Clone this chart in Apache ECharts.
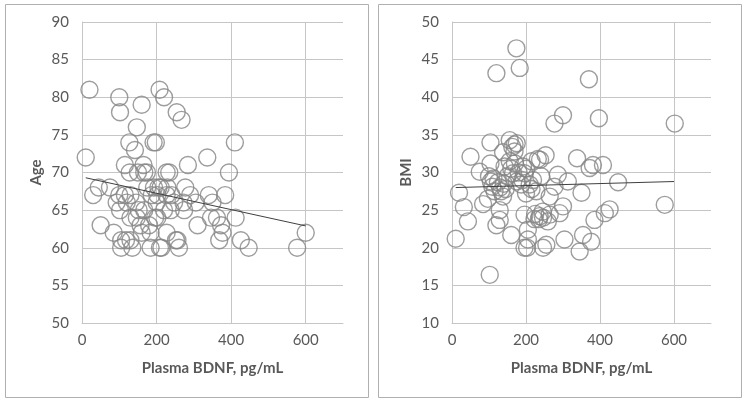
<!DOCTYPE html>
<html>
<head>
<meta charset="utf-8">
<script src="https://cdn.jsdelivr.net/npm/echarts@6/dist/echarts.min.js"></script>
<style>
  html, body { margin: 0; padding: 0; background: #fff; }
  #chart { width: 747px; height: 404px; }
</style>
</head>
<body>
<div id="chart"></div>
<script>
// Plasma BDNF (pg/mL) vs Age
const agePoints = [
  [10, 72], [20, 81], [30, 67], [45, 68], [50, 63], [75, 68], [85, 62], [100, 80], [102, 78],
  [100, 67], [102, 65], [105, 61], [105, 60], [115, 71], [127, 74], [128, 70], [115, 67],
  [120, 66], [130, 64], [118, 61], [130, 61], [135, 60], [130, 67], [142, 73], [147, 76],
  [160, 79], [145, 66], [152, 65], [157, 63], [147, 64], [165, 71], [167, 70], [174, 70],
  [175, 68], [167, 65], [180, 63], [184, 62], [184, 60], [192, 74], [198, 74], [196, 64],
  [202, 64], [193, 68], [202, 67], [200, 66], [208, 81], [220, 80], [211, 68], [227, 70],
  [234, 70], [229, 68], [227, 62], [213, 60], [238, 65], [247, 66], [252, 61], [256, 61],
  [254, 78], [267, 77], [260, 60], [272, 66], [274, 65], [277, 68], [284, 71], [290, 67],
  [305, 66], [310, 63], [336, 72], [340, 67], [350, 66], [346, 64], [362, 64], [368, 61],
  [373, 63], [377, 62], [384, 67], [394, 70], [410, 74], [412, 64], [426, 61], [447, 60],
  [577, 60], [600, 62], [93, 66], [150, 70], [160, 62], [187, 67], [227, 67], [205, 68],
  [209, 60], [220, 65], [240, 67]
];

// Plasma BDNF (pg/mL) vs BMI
const bmiPoints = [
  [10, 21.2], [19, 27.3], [32, 25.4], [43, 23.5], [50, 32.1], [75, 30.1], [84, 25.8],
  [104, 34.0], [102, 16.4], [104, 31.2], [100, 29.5], [109, 28.1], [97, 26.5], [120, 43.2],
  [120, 23.0], [129, 25.0], [129, 23.7], [124, 28.7], [133, 27.5], [138, 26.8], [138, 32.7],
  [142, 30.8], [156, 34.3], [163, 33.4], [169, 32.8], [169, 33.7], [156, 31.5], [165, 29.9],
  [174, 46.5], [183, 43.9], [160, 21.7], [192, 30.8], [196, 29.9], [187, 28.4], [196, 24.4],
  [205, 22.4], [205, 21.1], [196, 20.0], [203, 20.0], [210, 28.4], [219, 29.0], [228, 27.5],
  [232, 31.8], [253, 32.3], [237, 24.2], [223, 23.8], [246, 24.0], [264, 24.4], [259, 23.5],
  [246, 20.0], [255, 20.4], [241, 29.5], [264, 26.8], [277, 28.1], [277, 36.5], [300, 37.6],
  [286, 29.7], [300, 25.5], [291, 24.6], [304, 21.1], [313, 28.8], [338, 31.9], [350, 27.3],
  [345, 19.5], [354, 21.7], [370, 42.4], [372, 30.6], [381, 31.0], [376, 20.8], [385, 23.7],
  [397, 37.2], [408, 31.0], [413, 24.6], [426, 25.1], [449, 28.7], [575, 25.7], [602, 36.5],
  [140, 28.5], [150, 29.5], [145, 27.8], [130, 28.0], [115, 27.5], [160, 30.5], [170, 31.2],
  [180, 30.0], [175, 28.8], [200, 27.2], [215, 27.8], [225, 24.5], [235, 23.8], [245, 24.8],
  [200, 30.5], [190, 29.0], [215, 31.5], [105, 28.8], [112, 29.2], [238, 31.7], [175, 33.9]
];

// linear trendlines, endpoints
const trendX = [10, 600];
const ageTrend = [69.3, 62.9];
const bmiTrend = [28.0, 28.8];

const gray = '#595959';
const gridColor = '#c6c6c6';

const chart = echarts.init(document.getElementById('chart'));

function xAxisFor(gridIndex) {
  return {
    gridIndex: gridIndex,
    type: 'value',
    min: 0,
    max: 700,
    interval: 200,
    name: 'Plasma BDNF, pg/mL',
    nameLocation: 'middle',
    nameGap: 38,
    nameTextStyle: { color: gray, fontSize: 15, fontWeight: 'bold', fontFamily: 'Lato' },
    axisLine: { show: true, lineStyle: { color: gridColor, width: 1 } },
    axisTick: { show: false },
    axisLabel: { color: gray, fontSize: 15, fontFamily: 'Lato', margin: 10, showMaxLabel: false },
    splitLine: { show: true, showMaxLine: false, lineStyle: { color: gridColor, width: 1 } }
  };
}

function yAxisFor(gridIndex, name, min, max) {
  return {
    gridIndex: gridIndex,
    type: 'value',
    min: min,
    max: max,
    interval: 5,
    name: name,
    nameLocation: 'middle',
    nameGap: 38,
    nameTextStyle: { color: gray, fontSize: 15, fontWeight: 'bold', fontFamily: 'Lato' },
    axisLine: { show: true, lineStyle: { color: gridColor, width: 1 } },
    axisTick: { show: false },
    axisLabel: { color: gray, fontSize: 15, fontFamily: 'Lato', margin: 13 },
    splitLine: { show: true, lineStyle: { color: gridColor, width: 1 } }
  };
}

const circleStyle = {
  color: 'rgba(0,0,0,0)',
  borderColor: '#858585',
  borderWidth: 1.4
};

chart.setOption({
  animation: false,
  backgroundColor: '#fff',
  graphic: [
    { type: 'rect', shape: { x: 5.5, y: 4.5, width: 363, height: 393 },
      style: { fill: 'none', stroke: '#b0b0b0', lineWidth: 1 } },
    { type: 'rect', shape: { x: 378.5, y: 4.5, width: 363, height: 393 },
      style: { fill: 'none', stroke: '#b0b0b0', lineWidth: 1 } }
  ],
  grid: [
    { left: 82, top: 22, width: 261, height: 301 },
    { left: 452, top: 22, width: 259, height: 301 }
  ],
  xAxis: [xAxisFor(0), xAxisFor(1)],
  yAxis: [yAxisFor(0, 'Age', 50, 90), yAxisFor(1, 'BMI', 10, 50)],
  series: [
    {
      type: 'scatter', xAxisIndex: 0, yAxisIndex: 0,
      symbol: 'circle', symbolSize: 17,
      itemStyle: circleStyle,
      data: agePoints
    },
    {
      type: 'line', xAxisIndex: 0, yAxisIndex: 0,
      showSymbol: false, symbol: 'none',
      lineStyle: { color: '#404040', width: 1 },
      data: trendX.map((x, i) => [x, ageTrend[i]])
    },
    {
      type: 'scatter', xAxisIndex: 1, yAxisIndex: 1,
      symbol: 'circle', symbolSize: 17,
      itemStyle: circleStyle,
      data: bmiPoints
    },
    {
      type: 'line', xAxisIndex: 1, yAxisIndex: 1,
      showSymbol: false, symbol: 'none',
      lineStyle: { color: '#404040', width: 1 },
      data: trendX.map((x, i) => [x, bmiTrend[i]])
    }
  ]
});
</script>
</body>
</html>
